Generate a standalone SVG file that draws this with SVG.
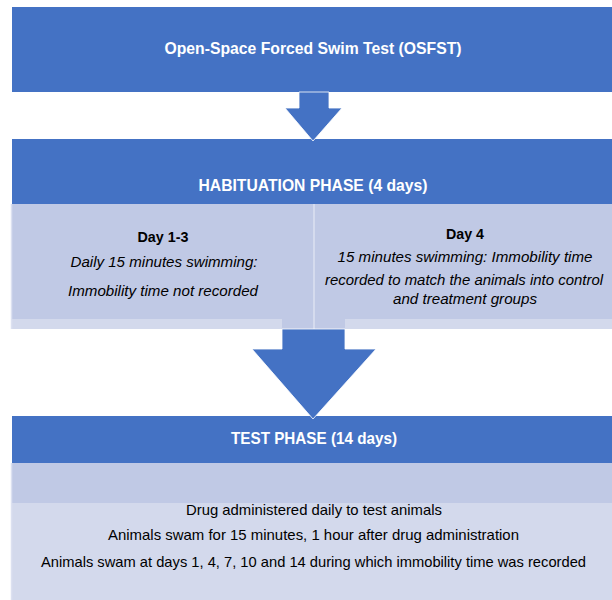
<svg xmlns="http://www.w3.org/2000/svg" width="612" height="600" viewBox="0 0 612 600">
  <style>
    .dark { fill: #4472C4; }
    .row1 { fill: #C0C9E5; }
    .row2 { fill: #D3D9EC; }
    .sep { stroke: #DCE1F1; stroke-width: 1.5; fill: none; }
    .hd { font-family: "Liberation Sans", Arial, sans-serif; font-weight: bold; fill: #FFFFFF; text-anchor: middle; font-size: 16.5px; }
    .b { font-family: "Liberation Sans", Arial, sans-serif; font-weight: bold; fill: #000000; text-anchor: middle; font-size: 15px; }
    .t { font-family: "Liberation Sans", Arial, sans-serif; fill: #000000; text-anchor: middle; font-size: 14.5px; }
    .i { font-style: italic; }
    .arrow { fill: #4472C4; stroke: #FFFFFF; stroke-width: 0.8; }
  </style>

  <rect width="612" height="600" fill="#FFFFFF"/>

  <g id="node-title">
    <rect class="dark" x="12" y="7" width="600" height="85"/>
    <text class="hd" x="313" y="54" textLength="297" lengthAdjust="spacingAndGlyphs">Open-Space Forced Swim Test (OSFST)</text>
  </g>

  <g id="node-habituation">
    <rect class="dark" x="12" y="139" width="600" height="65"/>
    <text class="hd" x="313" y="191" textLength="229" lengthAdjust="spacingAndGlyphs">HABITUATION PHASE (4 days)</text>
    <rect class="row1" x="12" y="204" width="600" height="115"/>
    <rect class="row2" x="12" y="319" width="270" height="10"/>
    <rect class="row1" x="282" y="319" width="63" height="10"/>
    <rect class="row2" x="345" y="319" width="267" height="10"/>
    <line class="sep" x1="314" y1="204" x2="314" y2="329"/>
    <line class="sep" x1="11.5" y1="204" x2="11.5" y2="329"/>
    <text class="b" x="163" y="242" textLength="51" lengthAdjust="spacingAndGlyphs">Day 1-3</text>
    <text class="t i" x="164" y="267" textLength="187" lengthAdjust="spacingAndGlyphs">Daily 15 minutes swimming:</text>
    <text class="t i" x="163" y="296" textLength="190" lengthAdjust="spacingAndGlyphs">Immobility time not recorded</text>
    <text class="b" x="465" y="239" textLength="38" lengthAdjust="spacingAndGlyphs">Day 4</text>
    <text class="t i" x="465" y="262" textLength="255" lengthAdjust="spacingAndGlyphs">15 minutes swimming: Immobility time</text>
    <text class="t i" x="464" y="285" textLength="278" lengthAdjust="spacingAndGlyphs">recorded to match the animals into control</text>
    <text class="t i" x="465" y="304" textLength="144" lengthAdjust="spacingAndGlyphs">and treatment groups</text>
  </g>

  <g id="node-test">
    <rect class="dark" x="12" y="416" width="600" height="47"/>
    <text class="hd" x="314" y="444" textLength="166" lengthAdjust="spacingAndGlyphs">TEST PHASE (14 days)</text>
    <rect class="row1" x="12" y="463" width="600" height="40"/>
    <rect class="row2" x="12" y="503" width="600" height="97"/>
    <line class="sep" x1="11.5" y1="463" x2="11.5" y2="600"/>
    <text class="t" x="314" y="515" textLength="256" lengthAdjust="spacingAndGlyphs">Drug administered daily to test animals</text>
    <text class="t" x="313.5" y="540" textLength="411" lengthAdjust="spacingAndGlyphs">Animals swam for 15 minutes, 1 hour after drug administration</text>
    <text class="t" x="313.5" y="567" textLength="545" lengthAdjust="spacingAndGlyphs">Animals swam at days 1, 4, 7, 10 and 14 during which immobility time was recorded</text>
  </g>

  <g id="connectors">
    <polygon class="arrow" points="299,92 329,92 329,108 342,108 313,141 285,108 299,108"/>
    <polygon class="arrow" points="282,329 345,329 345,349 376,349 313,419 252,349 282,349"/>
  </g>
</svg>
